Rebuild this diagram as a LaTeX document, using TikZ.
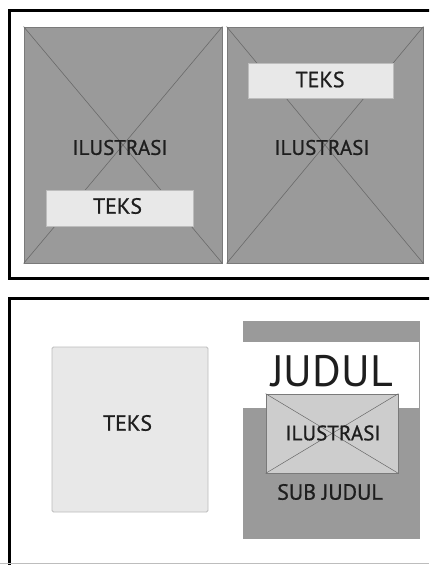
\documentclass[tikz,border=0pt]{standalone}
\usepackage{fontspec}
\setmainfont{PT Sans}
\newfontfamily\lblfont[FakeBold=0.8]{PT Sans}
\definecolor{boxgray}{HTML}{9A9A9A}
\definecolor{boxedge}{HTML}{7A7A7A}
\definecolor{xline}{HTML}{6A6A6A}
\definecolor{tekfill}{HTML}{E8E8E8}
\definecolor{tekedge}{HTML}{BDBDBD}
\definecolor{smallfill}{HTML}{CDCDCD}
\definecolor{txt}{HTML}{1E1E1E}
\begin{document}
\begin{tikzpicture}[x=1pt,y=-1pt,
  frame/.style={draw=black,line width=3pt},
  illbox/.style={draw=boxedge,fill=boxgray,line width=0.8pt,inner sep=0pt},
  cross/.style={draw=xline,line width=0.6pt},
  tekbox/.style={draw=tekedge,fill=tekfill,line width=0.8pt,inner sep=0pt},
  lbl/.style={text=txt,inner sep=0pt,font=\lblfont\fontsize{21}{23}\selectfont},
  smallbox/.style={draw=boxedge,fill=smallfill,line width=0.7pt,inner sep=0pt}]
\useasboundingbox (0,0) rectangle (429,565);
\clip (0,0) rectangle (429,565);
\fill[white] (0,0) rectangle (429,565);
% frames
\draw[frame] (9.5,10.5) rectangle (445,278);
\draw[frame] (9.5,298) rectangle (445,590);
\draw[tekedge,line width=0.8pt] (0,563.5) -- (429,563.5);
% top left
\node[illbox,minimum width=198pt,minimum height=236pt] (L) at (123,145) {};
\draw[cross] (L.north west) -- (L.south east);
\draw[cross] (L.north east) -- (L.south west);
\node[lbl] (Lill) at (120,147.5) {ILUSTRASI};
\node[tekbox,minimum width=147pt,minimum height=36pt] (Ltek) at (119.5,208) {};
\node[lbl,font=\lblfont\fontsize{22}{24}\selectfont] (Ltekt) at (117.5,206) {TEKS};
% top right
\node[illbox,minimum width=196pt,minimum height=236pt] (R) at (325,145) {};
\draw[cross] (R.north west) -- (R.south east);
\draw[cross] (R.north east) -- (R.south west);
\node[lbl] (Rill) at (322,147.5) {ILUSTRASI};
\node[tekbox,minimum width=145pt,minimum height=35pt] (Rtek) at (320.5,80.5) {};
\node[lbl,font=\lblfont\fontsize{22}{24}\selectfont] (Rtekt) at (320,79.5) {TEKS};
% bottom left
\node[tekbox,rounded corners=1.5pt,minimum width=156pt,minimum height=165pt] (B) at (130,429.5) {};
\node[lbl,font=\lblfont\fontsize{22}{24}\selectfont] (Bt) at (127.5,423) {TEKS};
% bottom right
\node[illbox,draw=boxgray,minimum width=176pt,minimum height=217pt] (P) at (331,429.5) {};
\node[fill=white,inner sep=0pt,minimum width=176pt,minimum height=66pt] (W) at (331,375) {};
\node[text=txt,inner sep=0pt,font=\fontsize{44}{48}\selectfont] (J) at (332,371) {JUDUL};
\node[smallbox,minimum width=132pt,minimum height=79pt] (S) at (332,433.5) {};
\draw[cross,line width=0.5pt] (S.north west) -- (S.south east);
\draw[cross,line width=0.5pt] (S.north east) -- (S.south west);
\node[lbl] (St) at (333,433) {ILUSTRASI};
\node[lbl,font=\lblfont\fontsize{22}{24}\selectfont] (SJ) at (330,492) {SUB JUDUL};
\end{tikzpicture}
\end{document}
